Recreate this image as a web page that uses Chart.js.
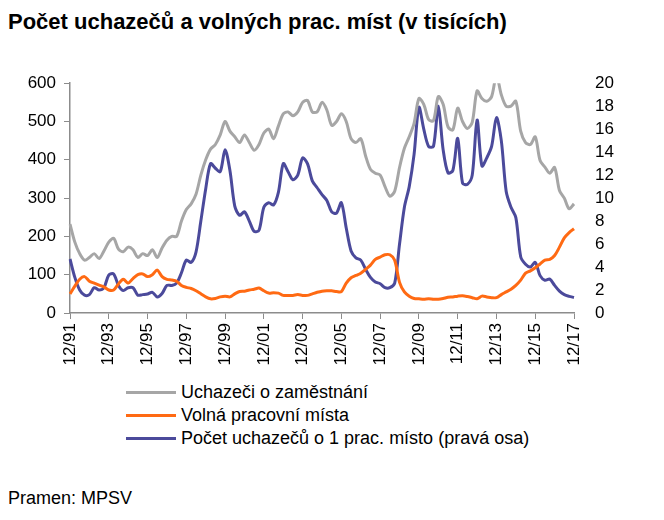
<!DOCTYPE html>
<html>
<head>
<meta charset="utf-8">
<script src="https://cdn.jsdelivr.net/npm/chart.js@4"></script>
<style>
  body { margin: 0; width: 664px; height: 520px; background: #fff; position: relative; overflow: hidden;
         font-family: 'Liberation Sans', Arial, sans-serif; color: #000; }
  #title { position: absolute; left: 8px; top: 9px; font: bold 22px 'Liberation Sans', Arial, sans-serif; white-space: nowrap; }
  #wrap { position: absolute; left: 0; top: 60px; width: 664px; height: 320px; }
  #legend { position: absolute; left: 126px; top: 381px; font-size: 18px; }
  .item { height: 23px; display: flex; align-items: center; white-space: nowrap; }
  .swatch { width: 50px; height: 3px; margin-right: 5px; }
  #source { position: absolute; left: 8px; top: 488px; font-size: 18px; }
</style>
</head>
<body>
<div id="title">Počet uchazečů a volných prac. míst (v tisících)</div>
<div id="wrap"><canvas id="myChart" width="664" height="320"></canvas></div>
<div id="legend"></div>
<div id="source">Pramen: MPSV</div>
<script>
// quarterly points, 12/91 .. 12/17
const tickLabels = ['12/91', '12/93', '12/95', '12/97', '12/99', '12/01', '12/03',
    '12/05', '12/07', '12/09', '12/11', '12/13', '12/15', '12/17'];

const uchazeci = [
    232, 185, 155, 138, 145, 155, 142, 162, 185, 195, 167, 160, 172, 165, 145, 155,
    150, 165, 145, 170, 190, 200, 200, 240, 270, 285, 310, 360, 400, 428, 440, 465,
    500, 475, 460, 445, 465, 445, 425, 440, 470, 480, 455, 488, 520, 525, 515, 525,
    550, 555, 525, 525, 550, 530, 490, 500, 520, 500, 455, 445, 455, 410, 375, 365,
    360, 330, 305, 318, 380, 430, 460, 495, 560, 545, 505, 502, 565, 545, 486, 478,
    535, 500, 482, 498, 580, 560, 553, 565, 620, 570, 540, 540, 553, 475, 445, 440,
    460, 398, 381, 365, 380, 320, 300, 272, 285
];

const volnaMista = [
    50, 70, 88, 95, 83, 78, 73, 68, 60, 60, 76, 88, 78, 90, 100, 102,
    95, 100, 112, 95, 88, 86, 83, 72, 67, 64, 58, 50, 42, 37, 38, 42,
    44, 42, 50, 56, 57, 60, 62, 65, 58, 52, 53, 52, 46, 46, 46, 48,
    46, 46, 50, 54, 57, 58, 58, 56, 56, 78, 92, 98, 104, 114, 125, 140,
    146, 152, 152, 138, 80, 55, 44, 38, 37, 36, 37, 36, 36, 38, 41, 42,
    44, 45, 43, 40, 37, 44, 42, 40, 40, 48, 55, 62, 72, 86, 104, 110,
    118, 128, 138, 140, 150, 172, 196, 210, 220
];

const naMisto = [
    4.7, 3.1, 2.0, 1.55, 1.6, 2.2, 2.0, 2.2, 3.3, 3.4, 2.4, 1.95, 2.2, 2.2, 1.55, 1.6,
    1.65, 1.8, 1.4, 1.7, 2.4, 2.4, 2.6, 3.5, 4.6, 4.4, 5.3, 8.0, 10.8, 13.0, 12.6, 12.3,
    14.2, 12.4, 9.3, 8.5, 8.8, 8.0, 7.1, 7.2, 9.2, 9.6, 9.4, 10.5, 13.0, 12.3, 11.6, 12.0,
    13.5, 13.0, 11.5, 10.9, 10.3, 9.8, 8.8, 8.7, 9.6, 7.4, 5.4, 4.8, 4.6, 3.8, 3.1, 2.7,
    2.55, 2.2, 2.2, 2.6, 6.0, 9.2, 11.0, 13.8, 17.9, 16.0, 14.5, 14.5, 18.0, 14.2, 12.2, 12.4,
    15.2, 11.3, 11.2, 12.0, 16.8, 12.8, 13.5, 14.5, 17.0, 15.0, 10.6, 9.2, 8.3, 4.9, 4.25, 4.0,
    4.4, 3.25, 2.85, 2.95, 2.4, 1.9, 1.6, 1.45, 1.35
];

const seriesNames = ['Uchazeči o zaměstnání', 'Volná pracovní místa', 'Počet uchazečů o 1 prac. místo  (pravá osa)'];
const colors = ['#a6a6a6', '#ff6a13', '#4b4a9b'];

const months = [12, 3, 6, 9];
const labels = uchazeci.map((v, i) => {
    const y = (1991 + Math.floor((i + 3) / 4)) % 100;
    return months[i % 4] + '/' + String(y).padStart(2, '0');
});

const axisColor = '#8c8c8c';
const tickFont = { family: "'Liberation Sans', Arial, sans-serif", size: 17 };

const data = {
    labels: labels,
    datasets: [
        { label: seriesNames[0], data: uchazeci, borderColor: colors[0], yAxisID: 'y' },
        { label: seriesNames[1], data: volnaMista, borderColor: colors[1], yAxisID: 'y' },
        { label: seriesNames[2], data: naMisto, borderColor: colors[2], yAxisID: 'y1' },
    ].map(d => Object.assign(d, { borderWidth: 3, pointRadius: 0, tension: 0.3, fill: false }))
};

const config = {
    type: 'line',
    data: data,
    options: {
        responsive: false,
        animation: false,
        layout: { padding: { left: 8, right: 30, top: 20, bottom: 0 } },
        plugins: { legend: { display: false }, tooltip: { enabled: false } },
        scales: {
            x: {
                grid: { drawOnChartArea: false, color: axisColor, tickLength: 6 },
                border: { color: axisColor, width: 1.5 },
                ticks: {
                    autoSkip: false, maxRotation: 90, minRotation: 90, color: '#000', font: tickFont,
                    padding: 4,
                    callback: function (v, i) {
                        const l = labels[i];
                        return tickLabels.includes(l) ? l : null;
                    }
                },
                afterFit: s => { s.height = 67; }
            },
            y: {
                position: 'left', min: 0, max: 600,
                grid: { drawOnChartArea: false, color: axisColor, tickLength: 6 },
                border: { color: axisColor, width: 1.5 },
                ticks: { stepSize: 100, autoSkip: false, color: '#000', font: tickFont, padding: 8 },
                afterFit: s => { s.width = 62; }
            },
            y1: {
                position: 'right', min: 0, max: 20,
                grid: { display: false },
                border: { display: false },
                ticks: { stepSize: 2, autoSkip: false, color: '#000', font: tickFont, padding: 13 },
                afterFit: s => { s.width = 60; }
            }
        }
    }
};

const myChart = new Chart(document.getElementById('myChart'), config);

// legend below the chart
const legend = document.getElementById('legend');
seriesNames.forEach((name, i) => {
    const row = document.createElement('div');
    row.className = 'item';
    row.innerHTML = '<div class="swatch" style="background:' + colors[i] + '"></div><span></span>';
    row.querySelector('span').textContent = name;
    legend.appendChild(row);
});
</script>
</body>
</html>
